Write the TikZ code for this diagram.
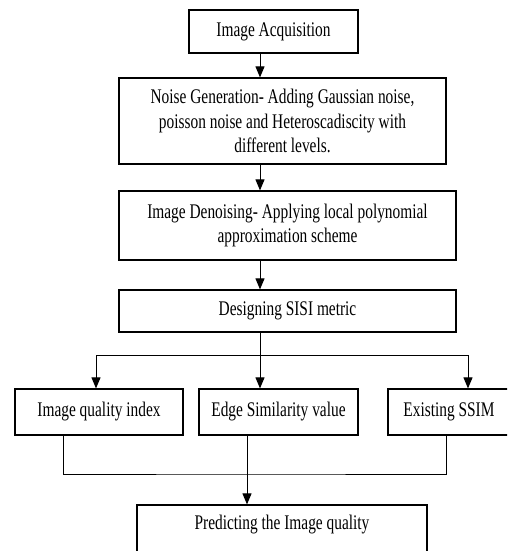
\documentclass[tikz,border=0pt]{standalone}
\usepackage{fontspec}
\setmainfont[FakeStretch=0.74]{Liberation Serif}
\usetikzlibrary{arrows.meta}

\begin{document}
\begin{tikzpicture}[
  x=1pt, y=-1pt,
  font=\fontsize{20.8}{24.5}\selectfont,
  stage/.style={draw, line width=1.2pt, align=center, inner sep=0pt},
  arr/.style={-{Triangle[length=11pt,width=9pt]}, line width=1pt},
  link/.style={line width=1pt}
]
\clip (0,0) rectangle (507,551);

\coordinate (spine) at (260,0);

\node[stage, minimum width=169, minimum height=43] (acq) at (273.5,31.5) {Image Acquisition};
\node[stage, minimum width=327, minimum height=86] (noise) at (282.5,121)
  {Noise Generation- Adding Gaussian noise,\\poisson noise and Heteroscadiscity with\\different levels.};
\node[stage, minimum width=337, minimum height=69] (denoise) at (287.5,225.5)
  {Image Denoising- Applying local polynomial\\approximation scheme};
\node[stage, minimum width=337, minimum height=42] (sisi) at (287.5,311) {Designing SISI metric};
\node[stage, minimum width=168, minimum height=46] (iqi) at (99,412) {Image quality index};
\node[stage, minimum width=159, minimum height=46] (esv) at (278.5,412) {Edge Similarity value};
\node[stage, minimum width=160, minimum height=46] (ssim) at (468,412) {\hspace*{-38pt}Existing SSIM};
\node[stage, minimum width=290, minimum height=66] (pred) at (282,538) {Predicting the Image quality\\\strut};

% main chain
\draw[arr] (acq.south -| spine) -- (noise.north -| spine);
\draw[arr] (noise.south -| spine) -- (denoise.north -| spine);
\draw[arr] (denoise.south -| spine) -- (sisi.north -| spine);

% split into the three measures
\coordinate (split) at (260,355);
\draw[link] (sisi.south -| spine) -- (split);
\draw[arr] (split) -| ([xshift=-3pt]iqi.north);
\draw[arr] (split) -- (esv.north -| spine);
\draw[arr] (split) -| (ssim.north);

% merge into the prediction
\coordinate (merge) at (247,474);
\draw[link] ([xshift=-36pt]iqi.south) |- (merge) -| ([xshift=-22pt]ssim.south);
\draw[arr] (esv.south -| merge) -- (pred.north -| merge);

\end{tikzpicture}
\end{document}
